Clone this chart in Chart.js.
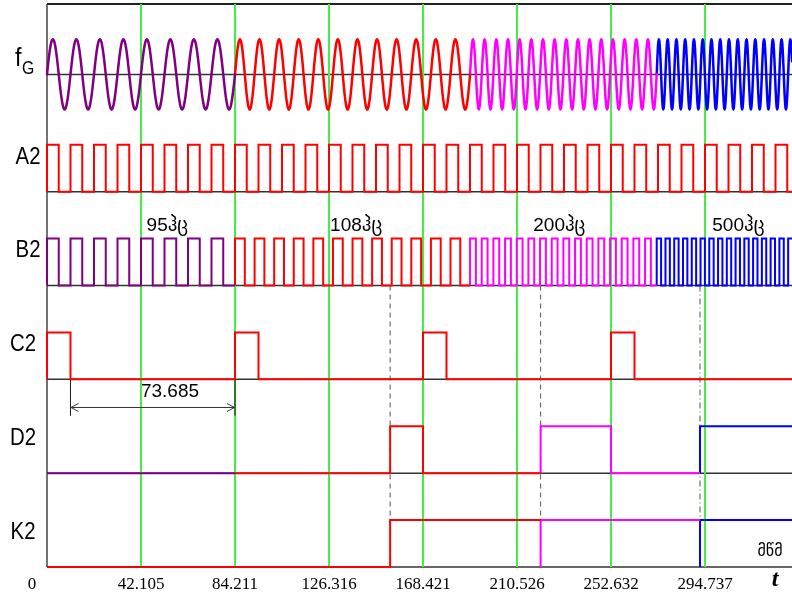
<!DOCTYPE html>
<html>
<head>
<meta charset="utf-8">
<script src="https://cdn.jsdelivr.net/npm/chart.js@4.4.1/dist/chart.umd.min.js"></script>
<style>
  html, body { margin: 0; padding: 0; background: #ffffff; }
  canvas { display: block; }
</style>
</head>
<body>
<canvas id="c" width="792" height="594"></canvas>
<script>
// ---- time axis, ms ----
const T_END = 333.7;
const tickValues = [0, 42.105, 84.211, 126.316, 168.421, 210.526, 252.632, 294.737];
const tickLabels = ['0', '42.105', '84.211', '126.316', '168.421', '210.526', '252.632', '294.737'];

// ---- channel names (top to bottom) ----
const rowNames = ['f', 'A2', 'B2', 'C2', 'D2', 'K2'];

// ---- generator segments: start time and period, ms ----
const segStart = [0, 84.211, 189.5, 273.1];
const segPeriod = [10.526, 8.775, 5.225, 3.925];
const segFreq = ['95ჰც', '108ჰც', '200ჰც', '500ჰც'];

// ---- A2 clock period, ms ----
const a2Period = 10.526;

// ---- pulse intervals [rise, fall], ms ----
const c2Pulses = [[0, 10.526], [84.211, 94.737], [168.421, 178.947], [252.632, 263.158]];
const d2Pulses = [[153.7, 168.421], [221.1, 252.632], [292.5, T_END]];
const k2Pulses = [[153.7, T_END]];

// ---- colour change times of D2 and K2, ms ----
const d2Changes = [0, 84.211, 221.1, 292.5];
const k2Changes = [0, 221.1, 292.5];

// ---- dashed markers, ms ----
const markerTimes = [153.7, 221.1, 292.5];

// ---- colours ----
const PURPLE = '#800080', RED = '#ff0000', MAGENTA = '#ff00ff', BLUE = '#0000ff';
const segColors = [PURPLE, RED, MAGENTA, BLUE];
const d2Colors = [PURPLE, RED, MAGENTA, BLUE];
const k2Colors = [RED, MAGENTA, BLUE];
const GREEN = '#44ee44';
const AXIS = '#333333';

// vertical placement of each channel (value units, 1 unit = one logic level)
const BASE = { fG: 10.5, A2: 8, B2: 6, C2: 4, D2: 2, K2: 0 };
const SINE_AMP = 0.75;

function levelAt(pulses, t) {
  return pulses.some(p => t >= p[0] && t < p[1]) ? 1 : 0;
}

// step polyline of a pulse train between a and b, starting from the baseline
function stepPiece(pulses, a, b, base) {
  const pts = [{ x: a, y: base }];
  let lv = levelAt(pulses, a);
  pts.push({ x: a, y: base + lv });
  const edges = [];
  pulses.forEach(p => {
    if (p[0] > a && p[0] < b) edges.push(p[0]);
    if (p[1] > a && p[1] < b) edges.push(p[1]);
  });
  edges.sort((m, n) => m - n);
  edges.forEach(e => {
    const nl = levelAt(pulses, e);
    pts.push({ x: e, y: base + lv }, { x: e, y: base + nl });
    lv = nl;
  });
  pts.push({ x: b, y: base + lv });
  return pts;
}

// pulse intervals of a 50 % duty clock between a and b
function clockPulses(a, b, P) {
  const out = [];
  for (let s = a; s < b - P * 0.1; s += P) out.push([s, Math.min(s + P / 2, b)]);
  return out;
}

function sinePiece(a, b, P, base) {
  const pts = [];
  const step = P / 16;
  for (let t = a; t < b - step * 0.25; t += step) {
    pts.push({ x: t, y: base + SINE_AMP * Math.sin(2 * Math.PI * (t - a) / P) });
  }
  pts.push({ x: b, y: base + SINE_AMP * Math.sin(2 * Math.PI * (b - a) / P) });
  return pts;
}

function line(data, color, width, order, extra) {
  return Object.assign({
    type: 'line', data, borderColor: color, borderWidth: width,
    pointRadius: 0, tension: 0, fill: false, order,
    borderJoinStyle: 'miter', borderCapStyle: 'butt', clip: false
  }, extra || {});
}

const datasets = [];

// channel baselines
Object.values(BASE).forEach(b => {
  datasets.push(line([{ x: 0, y: b }, { x: T_END, y: b }], AXIS, 1.5, 60));
});

// frame
datasets.push(line([{ x: 0, y: 12 }, { x: T_END, y: 12 }], '#222222', 2, 60));
datasets.push(line([{ x: 0, y: 0 }, { x: 0, y: 12 }], '#444444', 1.5, 60));

// time grid
tickValues.slice(1).forEach(v => {
  datasets.push(line([{ x: v, y: 0 }, { x: v, y: 12 }], GREEN, 2, 50));
});

// dashed markers from B2 down to K2
markerTimes.forEach((m, i) => {
  datasets.push(line([{ x: m, y: BASE.B2 }, { x: m, y: BASE.K2 }], '#555555', 1, 55,
    { borderDash: i === 2 ? [6, 3, 1, 3] : [5, 4] }));
});

// segment ends
const segEnd = segStart.slice(1).concat([T_END]);

// fG generator sine (smooth curve through the samples)
segStart.forEach((s, i) => {
  datasets.push(line(sinePiece(s, segEnd[i], segPeriod[i], BASE.fG), segColors[i], 2.5, 10,
    { tension: 0.3, borderJoinStyle: 'round', borderCapStyle: 'round' }));
});

// A2 clock
datasets.push(line(stepPiece(clockPulses(0, T_END, a2Period), 0, T_END, BASE.A2), RED, 2, 10));

// B2 shaped generator output
segStart.forEach((s, i) => {
  const pulses = clockPulses(s, segEnd[i], segPeriod[i]);
  datasets.push(line(stepPiece(pulses, s, segEnd[i], BASE.B2), segColors[i], 2, 10));
});

// C2
datasets.push(line(stepPiece(c2Pulses, 0, T_END, BASE.C2), RED, 2, 10));

// D2, K2 with colour changes
function coloured(pulses, changes, colors, base) {
  changes.forEach((c, i) => {
    const end = i + 1 < changes.length ? changes[i + 1] : T_END;
    datasets.push(line(stepPiece(pulses, c, end, base), colors[i], 2, 10));
  });
}
coloured(d2Pulses, d2Changes, d2Colors, BASE.D2);
coloured(k2Pulses, k2Changes, k2Colors, BASE.K2);

// dimension between first C2 fall and second C2 rise
const dimFrom = c2Pulses[0][1], dimTo = c2Pulses[1][0], dimY = 3.4;
datasets.push(line([{ x: dimFrom, y: dimY }, { x: dimTo, y: dimY }], '#333333', 1, 20));
datasets.push(line([{ x: dimFrom, y: BASE.C2 }, { x: dimFrom, y: 3.23 }], '#222222', 1, 20));
datasets.push(line([{ x: dimTo, y: BASE.C2 }, { x: dimTo, y: 3.23 }], '#225522', 1.5, 20));

const textLayer = {
  id: 'textLayer',
  afterDatasetsDraw(chart) {
    const { ctx } = chart;
    const x = chart.scales.x, y = chart.scales.y;
    ctx.save();
    ctx.fillStyle = '#000000';

    function scaledText(str, px, py, font, sx, align) {
      ctx.save();
      ctx.font = font;
      ctx.textAlign = align || 'left';
      ctx.textBaseline = 'alphabetic';
      ctx.translate(px, py);
      ctx.scale(sx, 1);
      ctx.fillText(str, 0, 0);
      ctx.restore();
    }

    // channel names
    const LBL = '24px "Liberation Sans", Arial, sans-serif';
    scaledText(rowNames[0], 15, y.getPixelForValue(BASE.fG + 0.18), '26px "Liberation Sans", Arial, sans-serif', 0.9);
    scaledText('G', 22, y.getPixelForValue(BASE.fG), '18px "Liberation Sans", Arial, sans-serif', 0.88);
    const lblX = [null, 28, 28, 23, 23, 23];
    ['A2', 'B2', 'C2', 'D2', 'K2'].forEach((n, i) => {
      scaledText(rowNames[i + 1], lblX[i + 1], y.getPixelForValue(BASE[n] + 0.6), LBL, 0.85, 'center');
    });

    // generator frequency labels
    const freqAt = [44.6, 126.8, 217.8, 298.0];
    segFreq.forEach((f, i) => {
      scaledText(f, x.getPixelForValue(freqAt[i]), y.getPixelForValue(7.17),
        '19px "Liberation Sans", "DejaVu Sans", sans-serif', 1);
    });

    // time tick labels
    tickValues.forEach((v, i) => {
      const px = v === 0 ? x.getPixelForValue(v) - 15 : x.getPixelForValue(v);
      scaledText(tickLabels[i], px, 589, '17px "Liberation Serif", "Times New Roman", serif', 1, 'center');
    });
    scaledText('t', 775, 586, 'bold italic 24px "Liberation Serif", "Times New Roman", serif', 1, 'center');
    scaledText('მწმ', 770, 556, '16px "DejaVu Sans", sans-serif', 1, 'center');

    // dimension label and arrowheads
    const ax = x.getPixelForValue(dimFrom), bx = x.getPixelForValue(dimTo), ay = y.getPixelForValue(dimY);
    scaledText((dimTo - dimFrom).toFixed(3), 170, 397, '19px "Liberation Sans", Arial, sans-serif', 1, 'center');
    ctx.strokeStyle = '#333333';
    ctx.lineWidth = 1;
    ctx.beginPath();
    ctx.moveTo(ax + 8, ay - 4); ctx.lineTo(ax + 0.5, ay); ctx.lineTo(ax + 8, ay + 4);
    ctx.moveTo(bx - 8, ay - 4); ctx.lineTo(bx - 0.5, ay); ctx.lineTo(bx - 8, ay + 4);
    ctx.stroke();
    ctx.restore();
  }
};

new Chart(document.getElementById('c'), {
  type: 'line',
  data: { datasets },
  options: {
    responsive: false,
    devicePixelRatio: 1,
    animation: false,
    events: [],
    layout: { padding: { left: 47, right: 0, top: 4, bottom: 27 } },
    plugins: { legend: { display: false }, tooltip: { enabled: false } },
    scales: {
      x: { type: 'linear', min: 0, max: T_END, display: false },
      y: { type: 'linear', min: 0, max: 12, display: false }
    }
  },
  plugins: [textLayer]
});
</script>
</body>
</html>
